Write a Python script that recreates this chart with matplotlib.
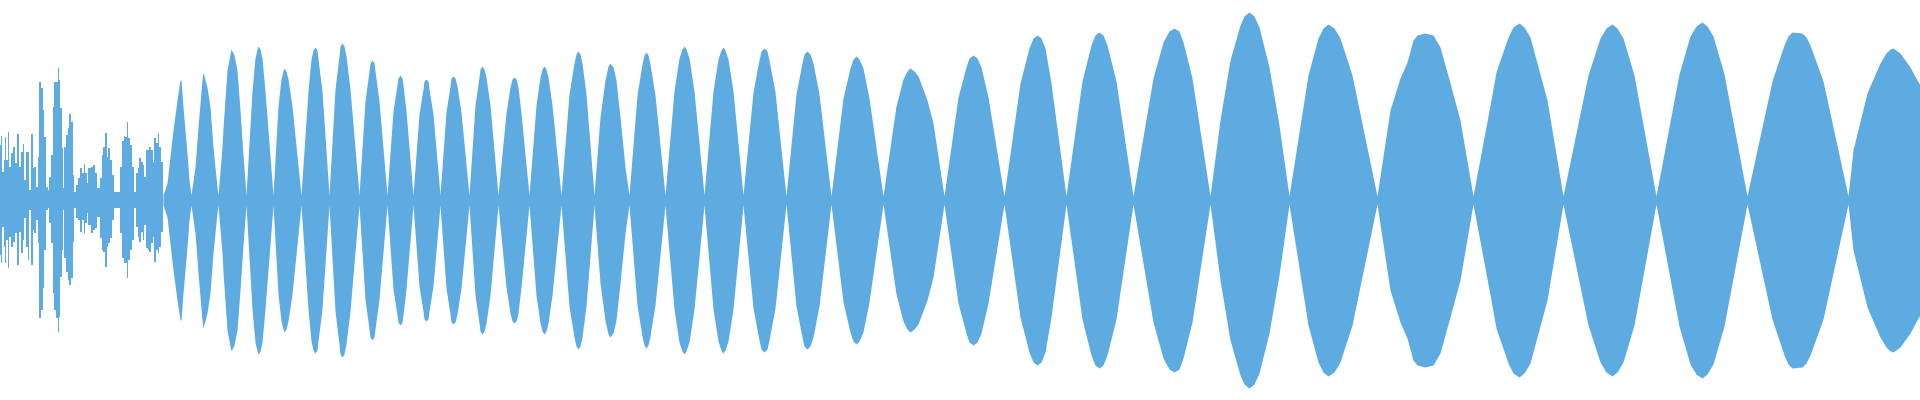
import matplotlib
matplotlib.use("Agg")
import matplotlib.pyplot as plt
import numpy as np

# ---- Data (sample position, amplitude in display units, centre = 0) ----
# Irregular opening section: per-sample top / bottom peak amplitude
noise_x = [
    0, 1, 3, 4, 5, 7, 8, 10, 12, 14,
    16, 18, 20, 22, 23, 24, 27, 28, 30, 32,
    33, 35, 37, 38, 40, 42, 43, 45, 47, 48,
    50, 52, 53, 54, 57, 58, 59, 61, 62, 63,
    65, 67, 68, 70, 72, 73, 75, 77, 79, 81,
    83, 84, 86, 87, 89, 92, 94, 96, 98, 101,
    102, 104, 106, 107, 109, 111, 113, 114, 117, 118,
    121, 123, 124, 126, 127, 129, 131, 133, 134, 137,
    138, 140, 142, 143, 145, 147, 148, 150, 152, 153,
    155, 157, 158, 160, 162, 163]
noise_top = [
    55, 64, 28, 40, 63, 40, 68, 33, 47, 53,
    37, 66, 33, 48, 56, 20, 48, 48, 10, 66,
    32, 33, 13, 43, 118, 112, 90, 63, 13, 10,
    23, 45, 93, 118, 118, 132, 120, 92, 52, 12,
    53, 65, 72, 86, 78, 25, 8, 15, 22, 32,
    27, 36, 27, 17, 32, 33, 35, 27, 12, 22,
    45, 53, 67, 43, 52, 40, 25, 8, 8, 8,
    33, 59, 64, 63, 78, 62, 55, 33, 8, 27,
    32, 42, 38, 35, 23, 50, 50, 53, 50, 38,
    62, 57, 67, 53, 38, 5]
noise_bot = [
    55, 63, 27, 47, 63, 40, 68, 37, 47, 42,
    33, 65, 32, 53, 40, 18, 47, 60, 10, 65,
    30, 33, 20, 43, 118, 110, 88, 50, 10, 8,
    23, 43, 93, 110, 118, 132, 117, 77, 50, 10,
    58, 72, 80, 85, 78, 42, 8, 18, 20, 32,
    20, 33, 23, 13, 25, 33, 30, 28, 17, 38,
    50, 52, 67, 47, 43, 38, 20, 8, 8, 8,
    33, 58, 63, 63, 78, 60, 50, 40, 8, 27,
    37, 42, 32, 40, 25, 48, 50, 52, 43, 37,
    62, 50, 53, 47, 32, 5]

# Beating section: envelope knots (position, peak amplitude), one lobe per row
env_x = [163,
    167, 173, 177, 180, 181, 183, 187, 189, 191,
    195, 198, 202, 203, 207, 210, 213, 217, 218,
    222, 223, 227, 231, 234, 237, 240, 243, 246,
    252, 255, 257, 258, 260, 262, 265, 273,
    278, 281, 283, 284, 286, 288, 292, 301,
    308, 311, 313, 315, 317, 318, 322, 329,
    335, 339, 340, 342, 344, 346, 350, 359,
    365, 369, 370, 372, 374, 375, 379, 387,
    393, 397, 398, 400, 402, 403, 406, 413,
    419, 423, 424, 426, 428, 429, 433, 440,
    446, 450, 451, 453, 455, 457, 461, 469,
    475, 479, 480, 482, 484, 486, 490, 498,
    506, 510, 512, 514, 516, 518, 521, 529,
    536, 540, 542, 544, 546, 548, 552, 561,
    569, 574, 576, 578, 580, 582, 586, 594,
    600, 605, 608, 610, 613, 616, 620, 625, 629,
    637, 642, 644, 646, 648, 650, 655, 665,
    674, 679, 682, 684, 686, 689, 694, 704,
    713, 718, 721, 723, 725, 728, 733, 743,
    753, 759, 761, 764, 767, 769, 775, 786,
    796, 802, 804, 807, 810, 813, 819, 831,
    843, 850, 853, 856, 859, 863, 869, 883,
    896, 903, 907, 910, 914, 918, 927, 933, 944,
    958, 966, 969, 973, 977, 981, 988, 1004,
    1020, 1029, 1033, 1037, 1041, 1045, 1051, 1066,
    1082, 1091, 1095, 1099, 1103, 1107, 1116, 1133,
    1153, 1163, 1169, 1174, 1179, 1183, 1192, 1210,
    1220, 1230, 1240, 1244, 1249, 1254, 1259, 1269, 1279, 1289,
    1308, 1318, 1323, 1328, 1334, 1340, 1352, 1377,
    1390, 1400, 1407, 1413, 1417, 1425, 1433, 1440, 1450, 1460, 1473,
    1491, 1496, 1508, 1513, 1519, 1524, 1530, 1547, 1563,
    1588, 1600, 1606, 1612, 1617, 1623, 1634, 1656,
    1679, 1690, 1696, 1702, 1707, 1713, 1724, 1747,
    1772, 1784, 1788, 1792, 1802, 1806, 1810, 1823, 1848,
    1853, 1867, 1880, 1886, 1890, 1893, 1900, 1910, 1917, 1920]
env_amp = [5,
    17, 70, 100, 120, 120, 93, 47, 20, 5,
    33, 73, 120, 128, 113, 93, 53, 13, 5,
    53, 72, 130, 151, 145, 130, 90, 45, 5,
    109, 142, 151, 154, 151, 142, 109, 5,
    94, 121, 129, 132, 129, 121, 94, 5,
    109, 141, 150, 153, 150, 141, 109, 5,
    111, 144, 154, 157, 154, 144, 111, 5,
    99, 129, 137, 140, 137, 129, 99, 5,
    89, 115, 122, 125, 122, 115, 89, 5,
    86, 111, 119, 121, 119, 111, 86, 5,
    88, 114, 122, 124, 122, 114, 88, 5,
    95, 123, 131, 134, 131, 123, 95, 5,
    87, 113, 121, 123, 121, 113, 87, 5,
    95, 123, 131, 134, 131, 123, 95, 5,
    106, 137, 146, 149, 146, 137, 106, 5,
    83, 120, 134, 137, 133, 120, 83, 33, 5,
    105, 136, 145, 148, 145, 136, 105, 5,
    109, 142, 151, 154, 151, 142, 109, 5,
    109, 141, 150, 153, 150, 141, 109, 5,
    108, 140, 149, 152, 149, 140, 108, 4,
    106, 137, 146, 149, 146, 137, 106, 4,
    102, 132, 141, 144, 141, 132, 102, 4,
    94, 121, 129, 132, 129, 124, 100, 77, 4,
    103, 133, 142, 145, 142, 133, 103, 4,
    117, 152, 162, 165, 162, 152, 117, 4,
    119, 155, 165, 168, 165, 155, 119, 4,
    122, 158, 169, 172, 169, 158, 122, 4,
    80, 140, 175, 184, 188, 184, 173, 133, 75, 4,
    125, 162, 172, 176, 172, 162, 125, 4,
    90, 122, 138, 160, 165, 167, 165, 153, 117, 80, 4,
    100, 128, 163, 173, 177, 173, 163, 100, 4,
    125, 162, 172, 176, 172, 162, 125, 4,
    126, 164, 174, 178, 174, 164, 126, 4,
    119, 155, 164, 168, 167, 163, 155, 119, 4,
    50, 107, 137, 147, 151, 152, 147, 133, 120, 115]

COLOR = "#5DABE1"

fig = plt.figure(figsize=(19.2, 4.0), dpi=100)
ax = fig.add_axes([0, 0, 1, 1])

nx = np.array(noise_x, dtype=float)
ax.fill_between(nx, -np.array(noise_bot, dtype=float), np.array(noise_top, dtype=float),
                step="mid", color=COLOR, linewidth=0)

ex = np.array(env_x, dtype=float)
ea = np.array(env_amp, dtype=float)
ax.fill_between(ex, -ea, ea, color=COLOR, linewidth=0)

ax.set_xlim(0, 1920)
ax.set_ylim(-200, 200)
ax.axis("off")

fig.savefig("out.png", dpi=100, facecolor="white")
